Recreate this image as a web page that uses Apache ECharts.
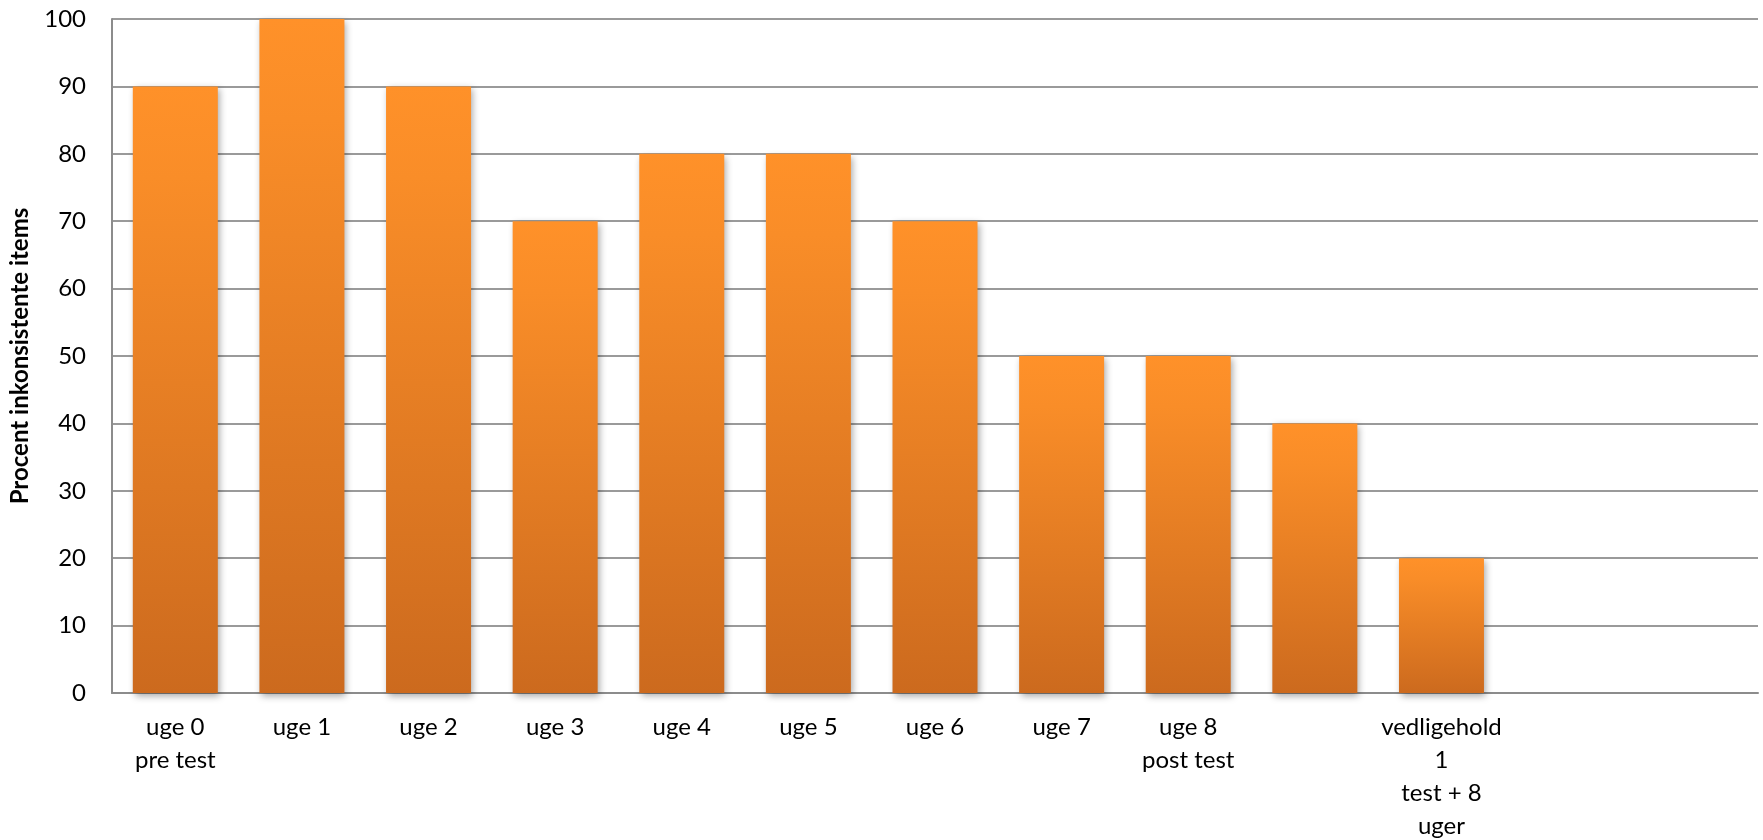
<!DOCTYPE html>
<html>
<head>
<meta charset="utf-8">
<script src="https://cdn.jsdelivr.net/npm/echarts@6/dist/echarts.min.js"></script>
<style>
html,body{margin:0;padding:0;background:#fff;}
#chart{width:1763px;height:840px;}
</style>
</head>
<body>
<div id="chart"></div>
<script>
const categories = [
  "uge 0\npre test", "uge 1", "uge 2", "uge 3", "uge 4", "uge 5", "uge 6",
  "uge 7", "uge 8\npost test", "", "vedligehold\n1\ntest + 8\nuger", "", ""
];
const values = [90, 100, 90, 70, 80, 80, 70, 50, 50, 40, 20, null, null];
const yTicks = { min: 0, max: 100, interval: 10 };
const yTitle = "Procent inkonsistente items";

const FONT = "Lato";
const chart = echarts.init(document.getElementById('chart'));
chart.setOption({
  animation: false,
  backgroundColor: '#ffffff',
  grid: { left: 112, right: 5, top: 19, bottom: 147, containLabel: false, outerBoundsMode: 'none' },
  xAxis: {
    type: 'category',
    data: categories,
    axisLine: { show: true, lineStyle: { color: '#8c8c8c', width: 2 } },
    axisTick: { show: false },
    axisLabel: {
      interval: 0, margin: 18, color: '#000', fontFamily: FONT, fontSize: 24,
      lineHeight: 33
    },
    splitLine: { show: false }
  },
  yAxis: {
    type: 'value',
    min: yTicks.min, max: yTicks.max, interval: yTicks.interval,
    name: yTitle,
    nameLocation: 'middle',
    nameRotate: 90,
    nameGap: 80,
    nameTextStyle: { fontFamily: FONT, fontWeight: 'bold', fontSize: 24, color: '#000' },
    axisLine: { show: true, lineStyle: { color: '#8c8c8c', width: 2 } },
    axisTick: { show: false },
    axisLabel: { margin: 26, color: '#000', fontFamily: FONT, fontSize: 24 },
    splitLine: { show: true, lineStyle: { color: '#9a9a9a', width: 2 } }
  },
  series: [{
    type: 'bar',
    data: values,
    barWidth: 85,
    itemStyle: {
      color: new echarts.graphic.LinearGradient(0, 0, 0, 1, [
        { offset: 0, color: '#ff9129' },
        { offset: 0.15, color: '#f98d28' },
        { offset: 1, color: '#cc6a1e' }
      ]),
      shadowColor: 'rgba(0,0,0,0.35)',
      shadowBlur: 7,
      shadowOffsetX: 2,
      shadowOffsetY: 3
    }
  }]
});
</script>
</body>
</html>
